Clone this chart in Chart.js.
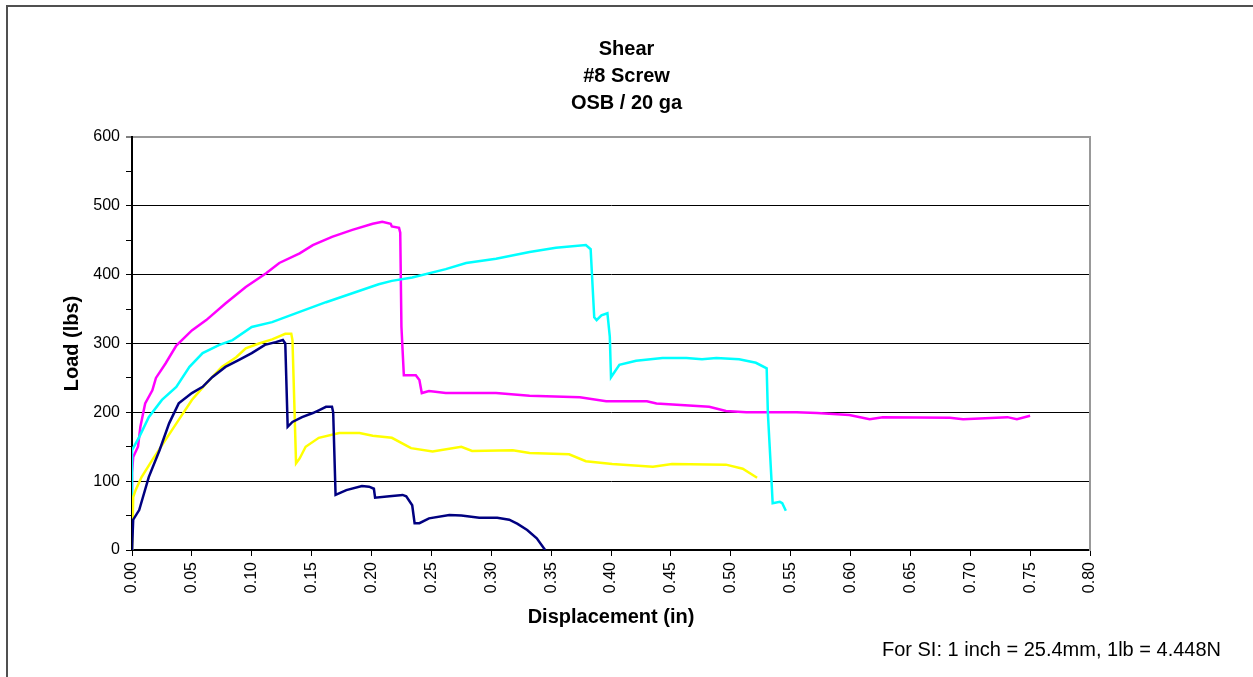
<!DOCTYPE html>
<html>
<head>
<meta charset="utf-8">
<script src="https://cdn.jsdelivr.net/npm/chart.js@4"></script>
<style>
  html, body { margin: 0; padding: 0; background: #fff; overflow: hidden; }
  #wrap { position: relative; width: 1253px; height: 677px; }
  #frame { position: absolute; left: 6px; top: 5px; width: 1260px; height: 700px;
           border-left: 2px solid #505050; border-top: 2px solid #505050; }
  #note { position: absolute; right: 32px; top: 637px; font: 20px Arial, "Liberation Sans", sans-serif;
          line-height: 24px; color: #000; white-space: nowrap; }
  canvas { position: absolute; left: 0; top: 0; }
</style>
</head>
<body>
<div id="wrap">
  <div id="frame"></div>
  <canvas id="shearChart" width="1253" height="677"></canvas>
  <div id="note">For SI: 1 inch = 25.4mm, 1lb = 4.448N</div>
</div>
<script>
// 読み取った値 (displacement in, load lbs)
const navyDisp = [0, 0.001, 0.006, 0.014, 0.023, 0.031, 0.039, 0.050, 0.059, 0.067, 0.078, 0.089, 0.100, 0.111, 0.120, 0.126, 0.128, 0.130, 0.134, 0.142, 0.151, 0.156, 0.162, 0.167, 0.168, 0.170, 0.179, 0.192, 0.198, 0.202, 0.203, 0.215, 0.226, 0.229, 0.234, 0.236, 0.240, 0.248, 0.265, 0.275, 0.290, 0.305, 0.315, 0.322, 0.330, 0.338, 0.345];
const navyLoad = [0, 44, 58, 106, 145, 184, 213, 228, 237, 251, 266, 276, 286, 298, 302, 305, 300, 179, 186, 193, 199, 203, 208, 208, 200, 80, 87, 93, 92, 89, 76, 78, 80, 78, 65, 39, 39, 46, 51, 50, 47, 47, 44, 38, 29, 17, 0];

const magentaDisp = [0, 0, 0.001, 0.005, 0.007, 0.011, 0.017, 0.020, 0.028, 0.037, 0.050, 0.062, 0.078, 0.095, 0.112, 0.123, 0.140, 0.151, 0.167, 0.184, 0.201, 0.209, 0.216, 0.217, 0.223, 0.224, 0.225, 0.227, 0.237, 0.240, 0.242, 0.248, 0.262, 0.304, 0.332, 0.374, 0.396, 0.430, 0.438, 0.482, 0.496, 0.513, 0.555, 0.572, 0.599, 0.616, 0.627, 0.683, 0.694, 0.731, 0.739, 0.750];
const magentaLoad = [0, 112, 135, 150, 179, 213, 232, 250, 271, 297, 319, 334, 358, 382, 402, 417, 431, 443, 455, 465, 474, 477, 474, 470, 468, 461, 324, 254, 254, 247, 228, 231, 228, 228, 224, 222, 216, 216, 213, 208, 202, 200, 200, 199, 196, 190, 193, 192, 190, 193, 190, 195];

const cyanDisp = [0, 0, 0.006, 0.014, 0.025, 0.037, 0.048, 0.059, 0.073, 0.084, 0.100, 0.117, 0.140, 0.162, 0.184, 0.206, 0.217, 0.234, 0.262, 0.279, 0.304, 0.332, 0.354, 0.379, 0.383, 0.386, 0.388, 0.392, 0.397, 0.399, 0.400, 0.407, 0.421, 0.443, 0.463, 0.476, 0.488, 0.507, 0.521, 0.530, 0.531, 0.534, 0.535, 0.541, 0.543, 0.546];
const cyanLoad = [0, 145, 164, 193, 218, 237, 266, 286, 298, 305, 324, 331, 346, 360, 373, 386, 391, 396, 408, 417, 423, 433, 439, 443, 437, 338, 334, 341, 344, 310, 251, 269, 275, 279, 279, 277, 279, 277, 272, 264, 199, 102, 68, 70, 68, 57];

const yellowDisp = [0, 0.001, 0.003, 0.008, 0.017, 0.028, 0.039, 0.050, 0.062, 0.075, 0.087, 0.095, 0.106, 0.117, 0.128, 0.133, 0.134, 0.137, 0.140, 0.145, 0.156, 0.173, 0.190, 0.201, 0.217, 0.233, 0.251, 0.275, 0.284, 0.318, 0.332, 0.365, 0.379, 0.401, 0.435, 0.451, 0.496, 0.510, 0.522];
const yellowLoad = [0, 77, 87, 106, 131, 160, 189, 218, 242, 266, 280, 293, 300, 306, 314, 314, 305, 126, 133, 150, 163, 170, 170, 166, 163, 148, 143, 150, 144, 145, 141, 139, 129, 125, 121, 125, 124, 118, 105];

const titleLines = ['Shear', '#8 Screw', 'OSB / 20 ga'];
const xTitle = 'Displacement (in)';
const yTitle = 'Load (lbs)';

function toPoints(xs, ys) {
    return xs.map((x, i) => ({ x: x, y: ys[i] }));
}

function series(xs, ys, color) {
    return {
        data: toPoints(xs, ys),
        borderColor: color,
        backgroundColor: color,
        borderWidth: 2.5,
        pointRadius: 0,
        tension: 0,
        fill: false
    };
}

Chart.defaults.font.family = 'Arial, "Liberation Sans", sans-serif';
Chart.defaults.color = '#000';

const chartCanvas = document.getElementById('shearChart');

new Chart(chartCanvas, {
    type: 'line',
    data: {
        datasets: [
            series(navyDisp, navyLoad, '#000080'),
            series(yellowDisp, yellowLoad, '#FFFF00'),
            series(cyanDisp, cyanLoad, '#00FFFF'),
            series(magentaDisp, magentaLoad, '#FF00FF')
        ]
    },
    options: {
        responsive: false,
        animation: false,
        layout: { padding: { left: 0, right: 0, top: 0, bottom: 47 } },
        plugins: {
            legend: { display: false },
            tooltip: { enabled: false },
            title: {
                display: true,
                text: titleLines,
                font: { size: 20, weight: 'bold', lineHeight: 27 / 20 },
                padding: { top: 36, bottom: 20 }
            }
        },
        scales: {
            x: {
                type: 'linear',
                min: 0,
                max: 0.8,
                afterFit: scale => { scale.height = 80; },
                ticks: {
                    stepSize: 0.05,
                    autoSkip: false,
                    minRotation: 90,
                    maxRotation: 90,
                    padding: 6,
                    font: { size: 16 },
                    callback: v => Number(v).toFixed(2)
                },
                grid: { drawOnChartArea: false, drawTicks: true, tickLength: 6, color: '#000' },
                border: { color: '#000', width: 2 },
                title: {
                    display: true,
                    text: xTitle,
                    font: { size: 20, weight: 'bold' },
                    padding: { top: 0, bottom: 1 }
                }
            },
            y: {
                type: 'linear',
                min: 0,
                max: 600,
                afterFit: scale => { scale.width = 132; },
                ticks: {
                    stepSize: 50,
                    padding: 6,
                    font: { size: 16 },
                    callback: v => (v % 100 === 0 ? v : '')
                },
                grid: {
                    color: ctx => {
                        const v = ctx.tick ? ctx.tick.value : 0;
                        if (v === 600) return '#999';
                        return v % 100 === 0 ? '#000' : 'rgba(0,0,0,0)';
                    },
                    lineWidth: ctx => (ctx.tick && ctx.tick.value === 600 ? 2 : 1),
                    tickColor: '#000',
                    tickWidth: 1,
                    tickLength: 6
                },
                border: { color: '#000', width: 2 },
                title: {
                    display: true,
                    text: yTitle,
                    font: { size: 20, weight: 'bold' },
                    padding: { top: 60, bottom: 0 }
                }
            },
            // 右側の余白と灰色の枠線用
            yRight: {
                type: 'linear',
                position: 'right',
                min: 0,
                max: 600,
                afterFit: scale => { scale.width = 163; },
                ticks: { display: false },
                grid: { drawOnChartArea: false, drawTicks: false },
                border: { color: '#999', width: 2 }
            }
        }
    }
});
</script>
</body>
</html>
